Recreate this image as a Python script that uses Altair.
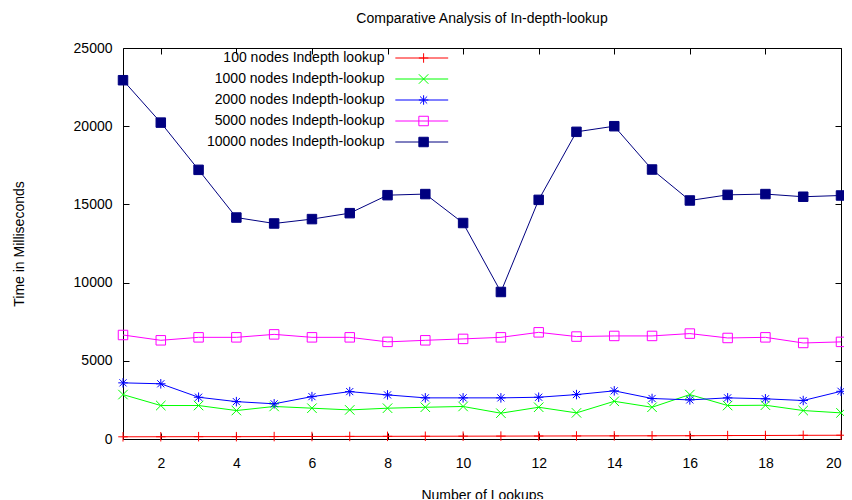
import altair as alt
import pandas as pd

# ---- data ----
lookups = list(range(1, 21))
series_names = [
    "100 nodes Indepth lookup",
    "1000 nodes Indepth-lookup",
    "2000 nodes Indepth-lookup",
    "5000 nodes Indepth-lookup",
    "10000 nodes Indepth-lookup",
]
marker_keys = ["m100", "m1000", "m2000", "m5000", "m10000"]
t100 = [140, 145, 150, 150, 155, 160, 165, 170, 175, 180, 185, 190, 195, 200, 205, 210, 220, 225, 235, 240]
t1000 = [2840, 2140, 2140, 1820, 2080, 1970, 1860, 1970, 2030, 2080, 1650, 2030, 1670, 2410, 2030, 2840, 2140, 2160, 1820, 1670]
t2000 = [3590, 3530, 2670, 2390, 2250, 2710, 3030, 2820, 2630, 2630, 2630, 2670, 2840, 3080, 2590, 2500, 2630, 2570, 2460, 3050]
t5000 = [6650, 6310, 6500, 6500, 6690, 6500, 6500, 6210, 6310, 6400, 6500, 6820, 6550, 6590, 6590, 6740, 6460, 6500, 6140, 6210]
t10000 = [22940, 20230, 17210, 14160, 13780, 14060, 14440, 15590, 15660, 13810, 9400, 15290, 19640, 20000, 17230, 15250, 15610, 15660, 15490, 15570]

colors = ["#ff0000", "#00ff00", "#0000ff", "#ff00ff", "#000080"]
marker_shapes = [
    "M-1,0H1M0,-1V1",
    "M-1,-1L1,1M-1,1L1,-1",
    "M-1,0H1M0,-1V1M-0.75,-0.75L0.75,0.75M-0.75,0.75L0.75,-0.75",
    "square",
    "square",
]
marker_fills = ["transparent", "transparent", "transparent", "transparent", "#000080"]
x_ticks = [2, 4, 6, 8, 10, 12, 14, 16, 18, 20]
y_ticks = [0, 5000, 10000, 15000, 20000, 25000]

rows = []
for name, key, vals in zip(series_names, marker_keys, [t100, t1000, t2000, t5000, t10000]):
    for lk, v in zip(lookups, vals):
        rows.append({"series": name, "marker": key, "lookup": lk, "time": v})
df = pd.DataFrame(rows)

FONT = "Liberation Sans"
FS = 14
xscale = alt.Scale(domain=[1, 20], nice=False, zero=False)
yscale = alt.Scale(domain=[0, 25000], nice=False, zero=False)

LEG_Y = 3
SYM = 90

line_legend = alt.Legend(
    title=None, orient="none", legendX=247.5, legendY=LEG_Y,
    symbolType="M3.76,0H14.9", symbolSize=SYM, symbolStrokeWidth=1,
    labelAlign="right", labelOffset=0, labelFont=FONT, labelFontSize=FS,
    labelColor="#000", rowPadding=7, padding=0, labelLimit=0,
)
marker_legend = alt.Legend(
    title=None, orient="none", legendX=293.6, legendY=LEG_Y,
    symbolSize=SYM, symbolStrokeWidth=1,
    labelAlign="right", labelOffset=0, labelFont=FONT, labelFontSize=FS,
    labelColor="#000", labelExpr="''", rowPadding=7, padding=0, labelLimit=0,
)

base = alt.Chart(df)

lines = base.mark_line(strokeWidth=1).encode(
    x=alt.X("lookup:Q", scale=xscale, title="Number of Lookups",
            axis=alt.Axis(values=x_ticks, orient="bottom", offset=-6, tickSize=6,
                          domain=False, grid=False, labelPadding=17,
                          labelFont=FONT, labelFontSize=FS, labelColor="#000",
                          tickColor="#000", titleFont=FONT, titleFontSize=FS,
                          titleFontWeight="normal", titleColor="#000", titlePadding=18)),
    y=alt.Y("time:Q", scale=yscale, title="Time in Milliseconds",
            axis=alt.Axis(values=y_ticks, orient="left", offset=-6, tickSize=6,
                          domain=False, grid=False, labelPadding=11, format="d",
                          labelFont=FONT, labelFontSize=FS, labelColor="#000",
                          tickColor="#000", titleFont=FONT, titleFontSize=FS,
                          titleFontWeight="normal", titleColor="#000", titlePadding=47)),
    color=alt.Color("series:N", scale=alt.Scale(domain=series_names, range=colors),
                    legend=line_legend),
)

points = base.mark_point(size=SYM, strokeWidth=1, opacity=1).encode(
    x=alt.X("lookup:Q", scale=xscale, axis=None),
    y=alt.Y("time:Q", scale=yscale, axis=None),
    stroke=alt.Stroke("marker:N", scale=alt.Scale(domain=marker_keys, range=colors),
                      legend=marker_legend),
    fill=alt.Fill("marker:N", scale=alt.Scale(domain=marker_keys, range=marker_fills),
                  legend=marker_legend),
    shape=alt.Shape("marker:N", scale=alt.Scale(domain=marker_keys, range=marker_shapes),
                    legend=marker_legend),
)

mirror = base.mark_point(opacity=0).encode(
    x=alt.X("lookup:Q", scale=xscale, title=None,
            axis=alt.Axis(values=x_ticks, orient="top", offset=-6, tickSize=6,
                          domain=False, grid=False, labels=False, tickColor="#000")),
    y=alt.Y("time:Q", scale=yscale, title=None,
            axis=alt.Axis(values=y_ticks, orient="right", offset=-6, tickSize=6,
                          domain=False, grid=False, labels=False, tickColor="#000")),
)

chart = (
    alt.layer(lines, points, mirror)
    .resolve_axis(x="independent", y="independent")
    .properties(
        width=718, height=391,
        title=alt.Title("Comparative Analysis of In-depth-lookup", font=FONT, fontSize=FS,
                        fontWeight="normal", color="#000", anchor="middle", frame="group",
                        offset=15),
        padding={"left": 115, "top": 40, "right": 3, "bottom": 60},
        autosize=alt.AutoSizeParams(type="none"),
    )
    .configure_view(stroke="#000", strokeWidth=1)
)

chart.save("out.html", embed_options={"renderer": "svg", "actions": False})
